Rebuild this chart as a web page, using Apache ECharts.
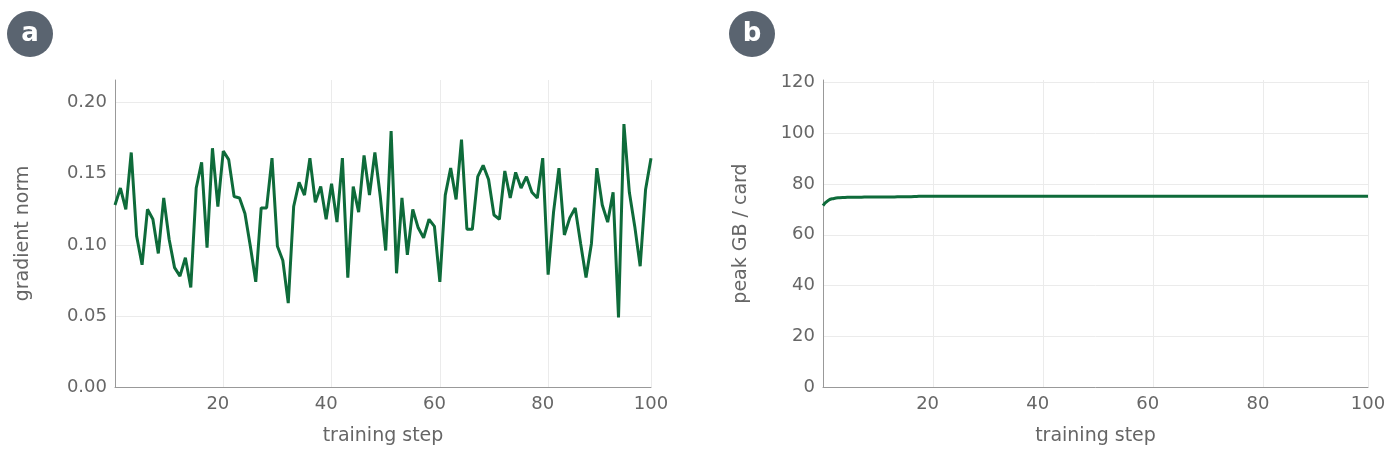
<!DOCTYPE html><html><head><meta charset="utf-8"><script src="https://cdn.jsdelivr.net/npm/echarts@6/dist/echarts.min.js"></script></head><body style="margin:0;background:#fff"><div id="c" style="width:1400px;height:474px"></div><script>
const gradNorm=[0.128,0.140,0.125,0.165,0.106,0.086,0.125,0.118,0.094,0.133,0.104,0.084,0.078,0.091,0.070,0.140,0.158,0.098,0.168,0.127,0.166,0.160,0.134,0.133,0.122,0.099,0.074,0.126,0.126,0.161,0.099,0.089,0.059,0.127,0.144,0.135,0.161,0.130,0.141,0.118,0.143,0.116,0.161,0.077,0.141,0.123,0.163,0.135,0.165,0.134,0.096,0.180,0.080,0.133,0.093,0.125,0.112,0.105,0.118,0.113,0.074,0.135,0.154,0.132,0.174,0.111,0.111,0.148,0.156,0.146,0.121,0.118,0.152,0.133,0.151,0.140,0.148,0.137,0.133,0.161,0.079,0.123,0.154,0.107,0.119,0.126,0.101,0.077,0.101,0.154,0.128,0.116,0.137,0.049,0.185,0.137,0.113,0.085,0.139,0.161];
const peakGB=[71.5,73.6,74.3,74.6,74.7,74.8,74.8,74.8,74.9,74.9,74.9,74.9,74.9,74.9,75.0,75.0,75.0,75.1,75.2,75.2,75.2,75.2,75.2,75.2,75.2,75.2,75.2,75.2,75.2,75.2,75.2,75.2,75.2,75.2,75.2,75.2,75.2,75.2,75.2,75.2,75.2,75.2,75.2,75.2,75.2,75.2,75.2,75.2,75.2,75.2,75.2,75.2,75.2,75.2,75.2,75.2,75.2,75.2,75.2,75.2,75.2,75.2,75.2,75.2,75.2,75.2,75.2,75.2,75.2,75.2,75.2,75.2,75.2,75.2,75.2,75.2,75.2,75.2,75.2,75.2,75.2,75.2,75.2,75.2,75.2,75.2,75.2,75.2,75.2,75.2,75.2,75.2,75.2,75.2,75.2,75.2,75.2,75.2,75.2,75.2];
const steps=gradNorm.map((_,i)=>i+1);
const txt='#666', gl='#ebebeb', col='#0e6b3a';
function xa(gi){return {type:'value',gridIndex:gi,min:1,max:100,interval:20,name:'training step',nameLocation:'middle',nameGap:40,nameTextStyle:{color:txt,fontSize:19,fontFamily:'DejaVu Sans'},axisLine:{lineStyle:{color:'#999'}},axisTick:{show:false},axisLabel:{color:txt,fontSize:18,fontFamily:'DejaVu Sans',customValues:[20,40,60,80,100]},splitLine:{show:true,lineStyle:{color:gl}}};}
const opt={animation:false,
grid:[{left:115,right:749,top:80,bottom:87},{left:823,right:32,top:80,bottom:87}],
xAxis:[xa(0),xa(1)],
yAxis:[{type:'value',gridIndex:0,min:0,max:0.216,interval:0.05,name:'gradient norm',nameLocation:'middle',nameGap:82,nameTextStyle:{color:txt,fontSize:19,fontFamily:'DejaVu Sans'},axisLine:{show:true,lineStyle:{color:'#999'}},axisTick:{show:false},axisLabel:{color:txt,fontSize:18,fontFamily:'DejaVu Sans',showMaxLabel:false,formatter:v=>v.toFixed(2)},splitLine:{lineStyle:{color:gl},showMaxLine:false}},
{type:'value',gridIndex:1,min:0,max:121,interval:20,name:'peak GB / card',nameLocation:'middle',nameGap:72,nameTextStyle:{color:txt,fontSize:19,fontFamily:'DejaVu Sans'},axisLine:{show:true,lineStyle:{color:'#999'}},axisTick:{show:false},axisLabel:{color:txt,fontSize:18,fontFamily:'DejaVu Sans',showMaxLabel:false},splitLine:{lineStyle:{color:gl},showMaxLine:false}}],
series:[{type:'line',xAxisIndex:0,yAxisIndex:0,data:steps.map((s,i)=>[s,gradNorm[i]]),showSymbol:false,lineStyle:{color:col,width:3}},
{type:'line',xAxisIndex:1,yAxisIndex:1,data:steps.map((s,i)=>[s,peakGB[i]]),showSymbol:false,smooth:true,lineStyle:{color:col,width:3}}],
graphic:[{type:'circle',shape:{cx:30,cy:34,r:23},style:{fill:'#5a6470'}},{type:'text',x:30,y:34,style:{text:'a',fill:'#fff',font:'bold 26px DejaVu Sans',align:'center',verticalAlign:'middle'}},
{type:'circle',shape:{cx:752,cy:34,r:23},style:{fill:'#5a6470'}},{type:'text',x:752,y:34,style:{text:'b',fill:'#fff',font:'bold 26px DejaVu Sans',align:'center',verticalAlign:'middle'}}]};
echarts.init(document.getElementById('c')).setOption(opt);
</script></body></html>
